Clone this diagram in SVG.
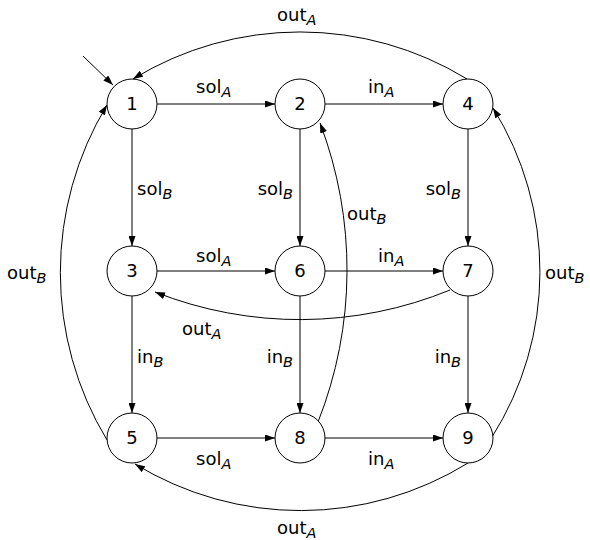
<svg xmlns="http://www.w3.org/2000/svg" width="590" height="540" viewBox="0 0 590 540">
<style>
  .node circle { fill: #ffffff; stroke: #000000; stroke-width: 1; }
  .node text { font-family: "DejaVu Sans", sans-serif; font-size: 18px; text-anchor: middle; fill: #000; }
  .edge { fill: none; stroke: #000000; stroke-width: 1; marker-end: url(#arrow); }
  .lbl { font-family: "DejaVu Sans", sans-serif; font-size: 18px; fill: #000; }
  .lbl tspan.s { font-size: 14.5px; font-style: italic; }
  .end { text-anchor: end; }
</style>
<defs>
  <marker id="arrow" markerUnits="userSpaceOnUse" markerWidth="11" markerHeight="7" refX="10" refY="3.5" orient="auto">
    <path d="M0,0 L10,3.5 L0,7 z" fill="#000"/>
  </marker>
</defs>
<rect width="590" height="540" fill="#ffffff"/>
<g id="connectors">
  <path class="edge" d="M83,56 L113,85"/>
  <path class="edge" d="M157,104 L275,104"/>
  <path class="edge" d="M325,104 L443,104"/>
  <path class="edge" d="M157,271 L275,271"/>
  <path class="edge" d="M325,271 L443,271"/>
  <path class="edge" d="M157,438 L275,438"/>
  <path class="edge" d="M325,438 L443,438"/>
  <path class="edge" d="M132,129 L132,246"/>
  <path class="edge" d="M300,129 L300,246"/>
  <path class="edge" d="M468,129 L468,246"/>
  <path class="edge" d="M132,296 L132,413"/>
  <path class="edge" d="M300,296 L300,413"/>
  <path class="edge" d="M468,296 L468,413"/>
  <path class="edge" d="M467,79 A320,320 0 0 0 133,79"/>
  <path class="edge" d="M468,463 A318,318 0 0 1 135,464"/>
  <path class="edge" d="M107,440 A324,324 0 0 1 107,105"/>
  <path class="edge" d="M492,437 A309,309 0 0 0 493,108"/>
  <path class="edge" d="M318,422 A413,413 0 0 0 320,123"/>
  <path class="edge" d="M450,290 A395,395 0 0 1 155,292"/>
</g>
<g id="labels">
  <text class="lbl" x="277" y="21">out<tspan class="s" dy="4">A</tspan></text>
  <text class="lbl" x="196" y="93">sol<tspan class="s" dy="4">A</tspan></text>
  <text class="lbl" x="368" y="93">in<tspan class="s" dy="4">A</tspan></text>
  <text class="lbl" x="137" y="195">sol<tspan class="s" dy="4">B</tspan></text>
  <text class="lbl end" x="293" y="195">sol<tspan class="s" dy="4">B</tspan></text>
  <text class="lbl end" x="461" y="195">sol<tspan class="s" dy="4">B</tspan></text>
  <text class="lbl" x="347" y="220">out<tspan class="s" dy="4">B</tspan></text>
  <text class="lbl" x="196" y="262">sol<tspan class="s" dy="4">A</tspan></text>
  <text class="lbl" x="378" y="262">in<tspan class="s" dy="4">A</tspan></text>
  <text class="lbl" x="182" y="335">out<tspan class="s" dy="4">A</tspan></text>
  <text class="lbl" x="137" y="363">in<tspan class="s" dy="4">B</tspan></text>
  <text class="lbl end" x="293" y="363">in<tspan class="s" dy="4">B</tspan></text>
  <text class="lbl end" x="461" y="363">in<tspan class="s" dy="4">B</tspan></text>
  <text class="lbl" x="196" y="465">sol<tspan class="s" dy="4">A</tspan></text>
  <text class="lbl" x="368" y="465">in<tspan class="s" dy="4">A</tspan></text>
  <text class="lbl" x="277" y="534">out<tspan class="s" dy="4">A</tspan></text>
  <text class="lbl" x="7" y="279">out<tspan class="s" dy="4">B</tspan></text>
  <text class="lbl" x="545" y="279">out<tspan class="s" dy="4">B</tspan></text>
</g>
<g id="n1" class="node"><circle cx="132" cy="104" r="25"/><text x="132" y="110">1</text></g>
<g id="n2" class="node"><circle cx="300" cy="104" r="25"/><text x="300" y="110">2</text></g>
<g id="n4" class="node"><circle cx="468" cy="104" r="25"/><text x="468" y="110">4</text></g>
<g id="n3" class="node"><circle cx="132" cy="271" r="25"/><text x="132" y="277">3</text></g>
<g id="n6" class="node"><circle cx="300" cy="271" r="25"/><text x="300" y="277">6</text></g>
<g id="n7" class="node"><circle cx="468" cy="271" r="25"/><text x="468" y="277">7</text></g>
<g id="n5" class="node"><circle cx="132" cy="438" r="25"/><text x="132" y="444">5</text></g>
<g id="n8" class="node"><circle cx="300" cy="438" r="25"/><text x="300" y="444">8</text></g>
<g id="n9" class="node"><circle cx="468" cy="438" r="25"/><text x="468" y="444">9</text></g>
</svg>
